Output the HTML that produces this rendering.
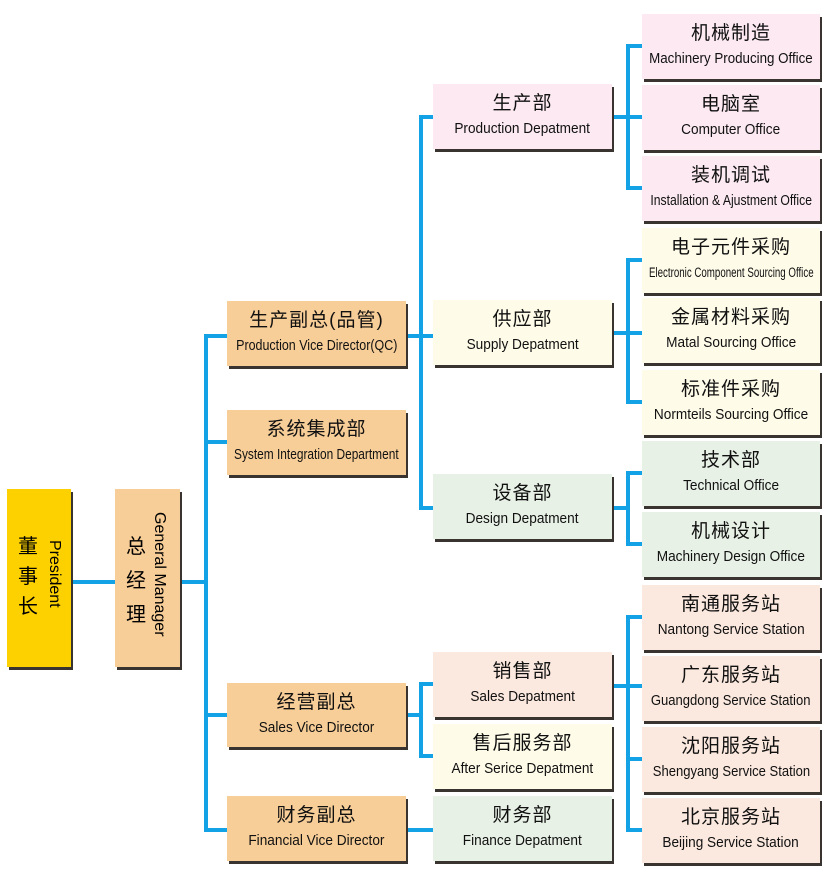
<!DOCTYPE html>
<html><head><meta charset="utf-8"><style>
body{margin:0;width:830px;height:883px;background:#fff;position:relative;overflow:hidden;font-family:"Liberation Sans","Noto Sans CJK SC",sans-serif;}
.b{position:absolute;box-shadow:2px 3px 0 #3a3430;text-align:center;color:#111;}
.b .c{font-size:19px;line-height:22px;margin-top:9px;letter-spacing:1px}
.b .e{font-size:14.5px;line-height:18px;margin-top:5px;white-space:nowrap;display:flex;justify-content:center}
.b .e span{display:inline-block;transform:scaleX(0.94);transform-origin:center}
.l{position:absolute;background:#14a2e6;}
.pk{background:#fce9f1}.cr{background:#fefbe8}.gr{background:#e8f1e6}.pe{background:#fbe8de}.or{background:#f8ce98}
</style></head><body>
<div class="l" style="left:71px;top:580px;width:44px;height:4px"></div>
<div class="l" style="left:180px;top:580px;width:26px;height:4px"></div>
<div class="l" style="left:204px;top:334px;width:4px;height:498px"></div>
<div class="l" style="left:204px;top:334px;width:23px;height:4px"></div>
<div class="l" style="left:204px;top:440px;width:23px;height:4px"></div>
<div class="l" style="left:204px;top:713px;width:23px;height:4px"></div>
<div class="l" style="left:204px;top:828px;width:23px;height:4px"></div>
<div class="l" style="left:406px;top:334px;width:27px;height:4px"></div>
<div class="l" style="left:419px;top:115px;width:4px;height:395px"></div>
<div class="l" style="left:419px;top:115px;width:14px;height:4px"></div>
<div class="l" style="left:419px;top:506px;width:14px;height:4px"></div>
<div class="l" style="left:406px;top:713px;width:15px;height:4px"></div>
<div class="l" style="left:419px;top:682px;width:4px;height:76px"></div>
<div class="l" style="left:419px;top:682px;width:14px;height:4px"></div>
<div class="l" style="left:419px;top:754px;width:14px;height:4px"></div>
<div class="l" style="left:406px;top:828px;width:27px;height:4px"></div>
<div class="l" style="left:612px;top:115px;width:30px;height:4px"></div>
<div class="l" style="left:626px;top:44px;width:4px;height:146px"></div>
<div class="l" style="left:626px;top:44px;width:16px;height:4px"></div>
<div class="l" style="left:626px;top:186px;width:16px;height:4px"></div>
<div class="l" style="left:612px;top:331px;width:30px;height:4px"></div>
<div class="l" style="left:626px;top:258px;width:4px;height:146px"></div>
<div class="l" style="left:626px;top:258px;width:16px;height:4px"></div>
<div class="l" style="left:626px;top:400px;width:16px;height:4px"></div>
<div class="l" style="left:612px;top:506px;width:16px;height:4px"></div>
<div class="l" style="left:626px;top:471px;width:4px;height:75px"></div>
<div class="l" style="left:626px;top:471px;width:16px;height:4px"></div>
<div class="l" style="left:626px;top:542px;width:16px;height:4px"></div>
<div class="l" style="left:612px;top:684px;width:30px;height:4px"></div>
<div class="l" style="left:626px;top:615px;width:4px;height:217px"></div>
<div class="l" style="left:626px;top:615px;width:16px;height:4px"></div>
<div class="l" style="left:626px;top:757px;width:16px;height:4px"></div>
<div class="l" style="left:626px;top:828px;width:16px;height:4px"></div>

<div class="b" style="left:7px;top:489px;width:64px;height:178px;background:#fdd000"></div>
<div style="position:absolute;left:18px;top:532px;font-size:20px;line-height:30px;width:22px">董<br>事<br>长</div>
<div style="position:absolute;left:45px;top:540px;font-size:16px;writing-mode:vertical-rl">President</div>
<div class="b or" style="left:115px;top:489px;width:65px;height:178px"></div>
<div style="position:absolute;left:126px;top:530px;font-size:20px;line-height:34px;width:22px">总<br>经<br>理</div>
<div style="position:absolute;left:150px;top:512px;font-size:16px;writing-mode:vertical-rl">General Manager</div>

<div class="b or" style="left:227px;top:301px;width:179px;height:65px"><div class="c">生产副总(品管)</div><div class="e"><span style="transform:scaleX(0.86)">Production Vice Director(QC)</span></div></div>
<div class="b or" style="left:227px;top:410px;width:179px;height:65px"><div class="c">系统集成部</div><div class="e"><span style="transform:scaleX(0.82)">System Integration Department</span></div></div>
<div class="b or" style="left:227px;top:683px;width:179px;height:64px"><div class="c">经营副总</div><div class="e"><span>Sales Vice Director</span></div></div>
<div class="b or" style="left:227px;top:796px;width:179px;height:65px"><div class="c">财务副总</div><div class="e"><span>Financial Vice Director</span></div></div>

<div class="b pk" style="left:433px;top:84px;width:179px;height:65px"><div class="c">生产部</div><div class="e"><span>Production Depatment</span></div></div>
<div class="b cr" style="left:433px;top:300px;width:179px;height:65px"><div class="c">供应部</div><div class="e"><span>Supply Depatment</span></div></div>
<div class="b gr" style="left:433px;top:474px;width:179px;height:65px"><div class="c">设备部</div><div class="e"><span>Design Depatment</span></div></div>
<div class="b pe" style="left:433px;top:652px;width:179px;height:65px"><div class="c">销售部</div><div class="e"><span>Sales Depatment</span></div></div>
<div class="b cr" style="left:433px;top:724px;width:179px;height:65px"><div class="c">售后服务部</div><div class="e"><span>After Serice Depatment</span></div></div>
<div class="b gr" style="left:433px;top:796px;width:179px;height:65px"><div class="c">财务部</div><div class="e"><span>Finance Depatment</span></div></div>

<div class="b pk" style="left:642px;top:14px;width:178px;height:65px"><div class="c">机械制造</div><div class="e"><span style="transform:scaleX(0.92)">Machinery Producing Office</span></div></div>
<div class="b pk" style="left:642px;top:85px;width:178px;height:65px"><div class="c">电脑室</div><div class="e"><span>Computer Office</span></div></div>
<div class="b pk" style="left:642px;top:156px;width:178px;height:65px"><div class="c">装机调试</div><div class="e"><span style="transform:scaleX(0.84)">Installation &amp; Ajustment Office</span></div></div>
<div class="b cr" style="left:642px;top:228px;width:178px;height:65px"><div class="c">电子元件采购</div><div class="e"><span style="font-size:13.5px;transform:scaleX(0.72)">Electronic Component Sourcing Office</span></div></div>
<div class="b cr" style="left:642px;top:298px;width:178px;height:65px"><div class="c">金属材料采购</div><div class="e"><span>Matal Sourcing Office</span></div></div>
<div class="b cr" style="left:642px;top:370px;width:178px;height:65px"><div class="c">标准件采购</div><div class="e"><span>Normteils Sourcing Office</span></div></div>
<div class="b gr" style="left:642px;top:441px;width:178px;height:65px"><div class="c">技术部</div><div class="e"><span>Technical Office</span></div></div>
<div class="b gr" style="left:642px;top:512px;width:178px;height:65px"><div class="c">机械设计</div><div class="e"><span>Machinery Design Office</span></div></div>
<div class="b pe" style="left:642px;top:585px;width:178px;height:65px"><div class="c">南通服务站</div><div class="e"><span>Nantong Service Station</span></div></div>
<div class="b pe" style="left:642px;top:656px;width:178px;height:65px"><div class="c">广东服务站</div><div class="e"><span style="transform:scaleX(0.9)">Guangdong Service Station</span></div></div>
<div class="b pe" style="left:642px;top:727px;width:178px;height:65px"><div class="c">沈阳服务站</div><div class="e"><span style="transform:scaleX(0.9)">Shengyang Service Station</span></div></div>
<div class="b pe" style="left:642px;top:798px;width:178px;height:65px"><div class="c">北京服务站</div><div class="e"><span>Beijing Service Station</span></div></div>
</body></html>
